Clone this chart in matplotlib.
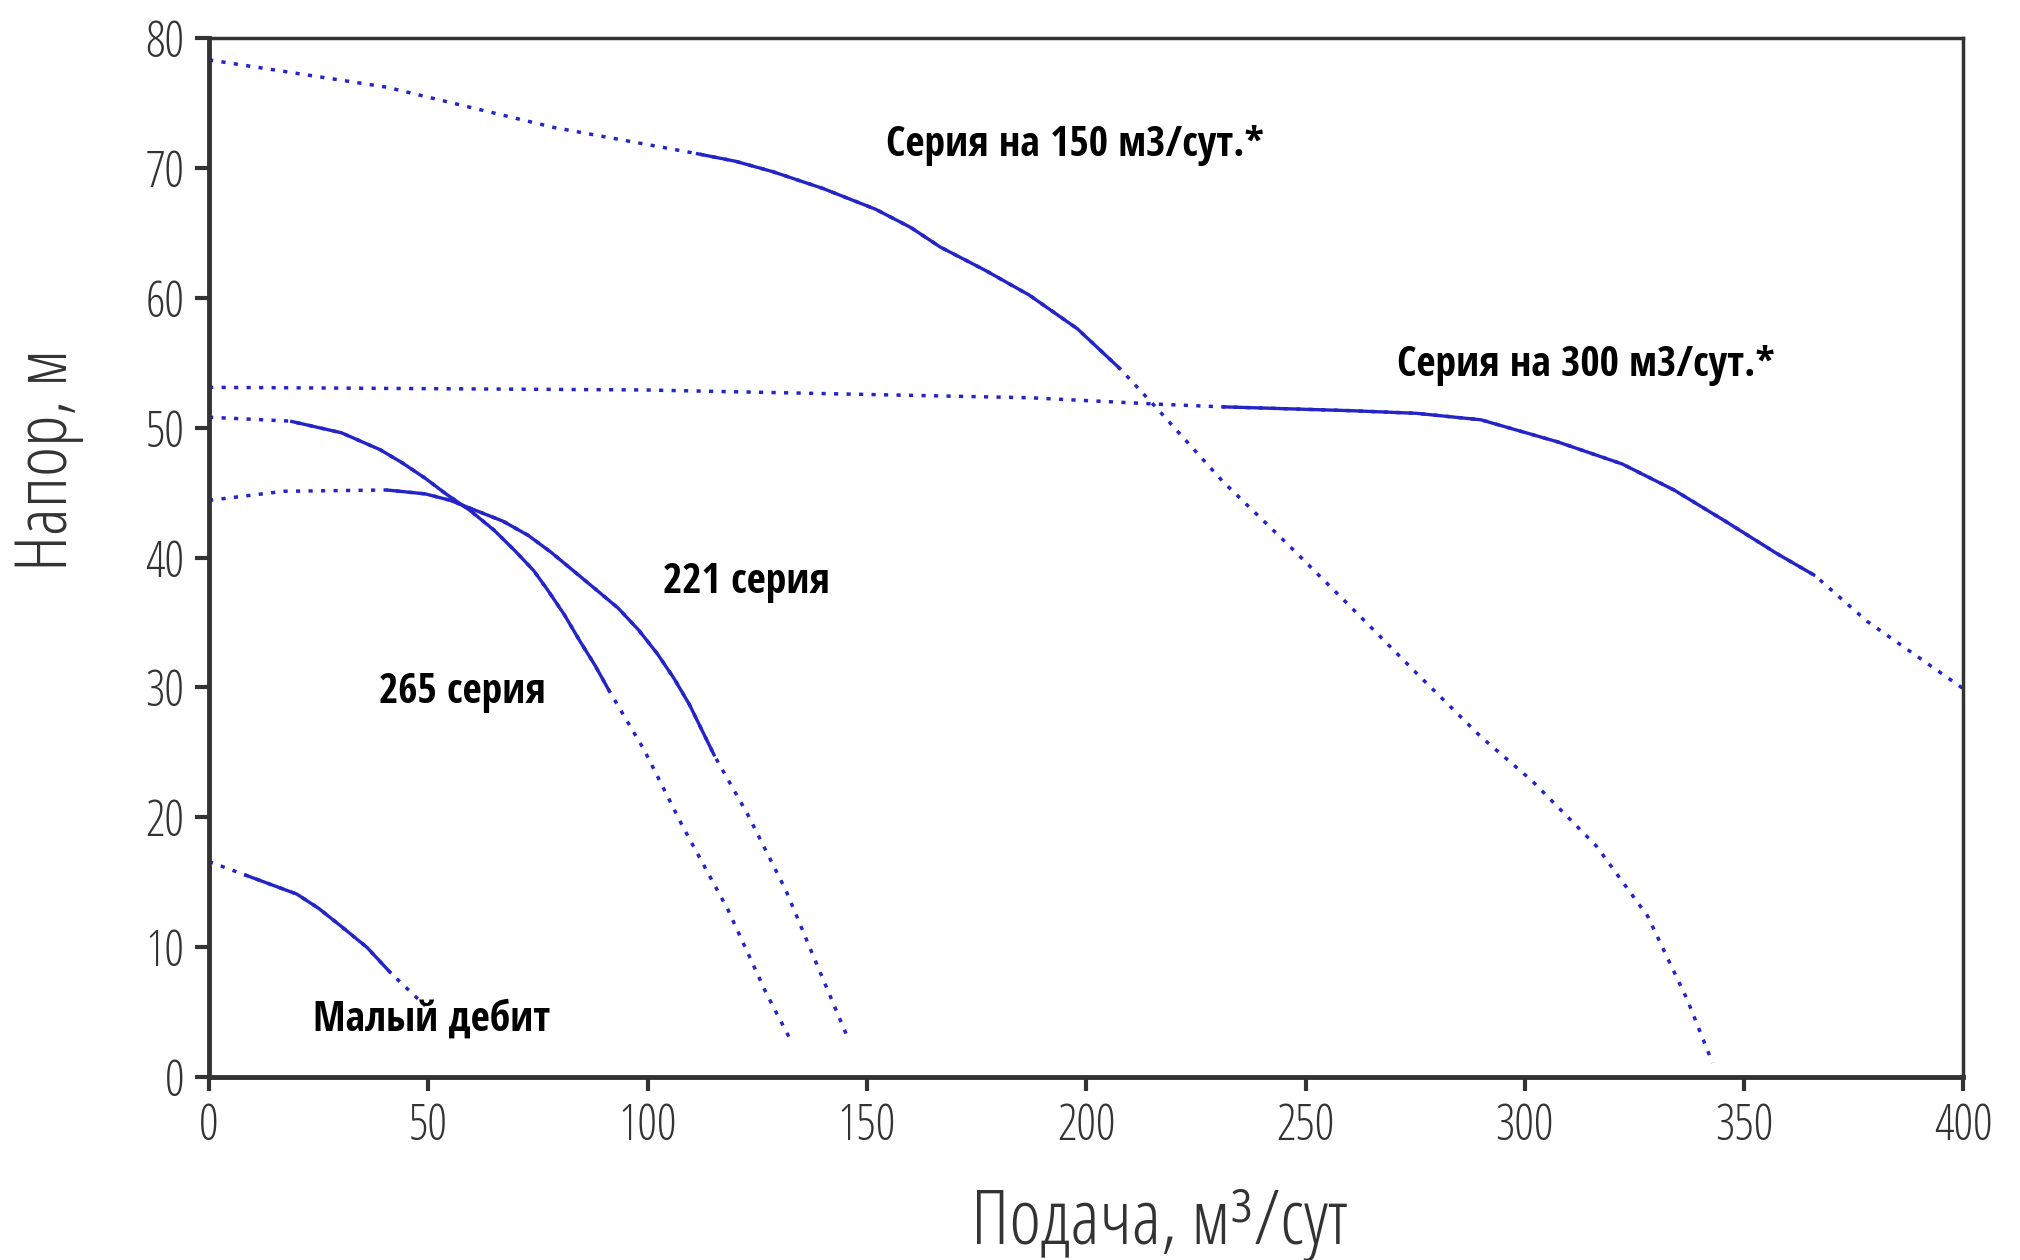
import matplotlib
matplotlib.use("Agg")
import matplotlib.pyplot as plt
from matplotlib.font_manager import FontProperties
import numpy as np

# pump head curves (x: m3/day, y: head, m)
s150_x = [0, 40.5, 78.6, 111, 120, 128.5, 140, 152, 160, 166.7, 177, 187, 198, 207.8, 216.6, 231, 246, 260.6, 275.3, 290, 301.7, 316.3, 328, 337, 342.8]
s150_y = [78.3, 76.2, 73.1, 71.1, 70.5, 69.7, 68.4, 66.8, 65.4, 63.9, 62.1, 60.2, 57.6, 54.5, 51.3, 45.9, 41.0, 36.1, 31.1, 26.2, 22.8, 17.8, 12.4, 6.0, 1.1]
s150_work = (111, 207.8)

s300_x = [0, 99, 187, 216.6, 231, 260.6, 275.3, 290, 307.5, 322.2, 334, 345.7, 357.5, 366.2, 378, 400]
s300_y = [53.1, 52.9, 52.3, 51.8, 51.6, 51.3, 51.1, 50.6, 48.9, 47.2, 45.2, 42.8, 40.3, 38.6, 35.1, 29.9]
s300_work = (231, 366.2)

s221_x = [0, 17, 40.5, 49.3, 55, 61, 67, 72.8, 78, 83, 88, 93.3, 98, 102.2, 106, 109.5, 115.3, 122.7, 131.5, 138.8, 145.3]
s221_y = [44.4, 45.1, 45.2, 44.9, 44.4, 43.6, 42.8, 41.7, 40.4, 39.0, 37.6, 36.1, 34.4, 32.6, 30.7, 28.7, 24.7, 20.3, 14.4, 8.5, 3.3]
s221_work = (40.5, 115.3)

s265_x = [0, 18.5, 30.2, 39, 44, 49.3, 54, 59.6, 65, 69.8, 74, 77.2, 81, 84.5, 88, 91.3, 99.2, 108, 118.3, 127, 133]
s265_y = [50.8, 50.5, 49.6, 48.3, 47.3, 46.1, 44.9, 43.6, 42.1, 40.5, 39.0, 37.5, 35.6, 33.6, 31.7, 29.7, 25.2, 19.3, 12.9, 6.5, 2.6]
s265_work = (18.5, 91.3)

low_x = [0, 8, 20, 25, 30.2, 36, 41.5, 49.3]
low_y = [16.6, 15.6, 14.1, 13.0, 11.6, 10.0, 8.0, 5.5]
low_work = (8, 41.5)

labels = ["Серия на 150 м3/сут.*", "Серия на 300 м3/сут.*", "221 серия", "265 серия", "Малый дебит"]
label_x = [154.4, 270.9, 103.6, 38.7, 23.8]
label_y = [71.7, 54.8, 38.1, 29.6, 4.4]

xticks = [0, 50, 100, 150, 200, 250, 300, 350, 400]
yticks = [0, 10, 20, 30, 40, 50, 60, 70, 80]

BLUE = "#2424c8"
GREY = "#333333"


def thin(size):
    return FontProperties(family="Open Sans", stretch="condensed", weight=300, size=size)


def note(size):
    return FontProperties(family="Open Sans Condensed", stretch="condensed", weight=700, size=size)


fig = plt.figure(figsize=(20.2, 12.6), dpi=100)
ax = fig.add_axes([0.1035, 0.145, 0.8685, 0.825])

curves = [(s150_x, s150_y, s150_work), (s300_x, s300_y, s300_work),
          (s221_x, s221_y, s221_work), (s265_x, s265_y, s265_work),
          (low_x, low_y, low_work)]
for cx, cy, (a, b) in curves:
    cx = np.array(cx)
    cy = np.array(cy)
    ax.plot(cx, cy, color=BLUE, lw=2.5, linestyle=(0, (1.2, 2.4)))
    m = (cx >= a) & (cx <= b)
    ax.plot(cx[m], cy[m], color=BLUE, lw=2.4, solid_capstyle="butt",
            solid_joinstyle="round")

for t, lx, ly in zip(labels, label_x, label_y):
    ax.text(lx, ly, t, ha="left", va="center", fontproperties=note(30),
            color="black")

ax.set_xlim(0, 400)
ax.set_ylim(0, 80)
ax.set_xticks(xticks)
ax.set_yticks(yticks)
ax.tick_params(direction="out", length=10, width=3, color=GREY,
               labelcolor=GREY, pad=8)
for lab in ax.get_xticklabels() + ax.get_yticklabels():
    lab.set_fontproperties(thin(35))
for side in ["left", "bottom"]:
    ax.spines[side].set_linewidth(3.5)
    ax.spines[side].set_color(GREY)
for side in ["top", "right"]:
    ax.spines[side].set_linewidth(2.5)
    ax.spines[side].set_color(GREY)

fig.text(0.574, 0.028, "Подача, м³/сут", ha="center", va="center",
         fontproperties=thin(55), color=GREY)
fig.text(0.024, 0.635, "Напор, м", ha="center", va="center", rotation=90,
         fontproperties=thin(52), color=GREY)

fig.savefig("out.png", dpi=100)
